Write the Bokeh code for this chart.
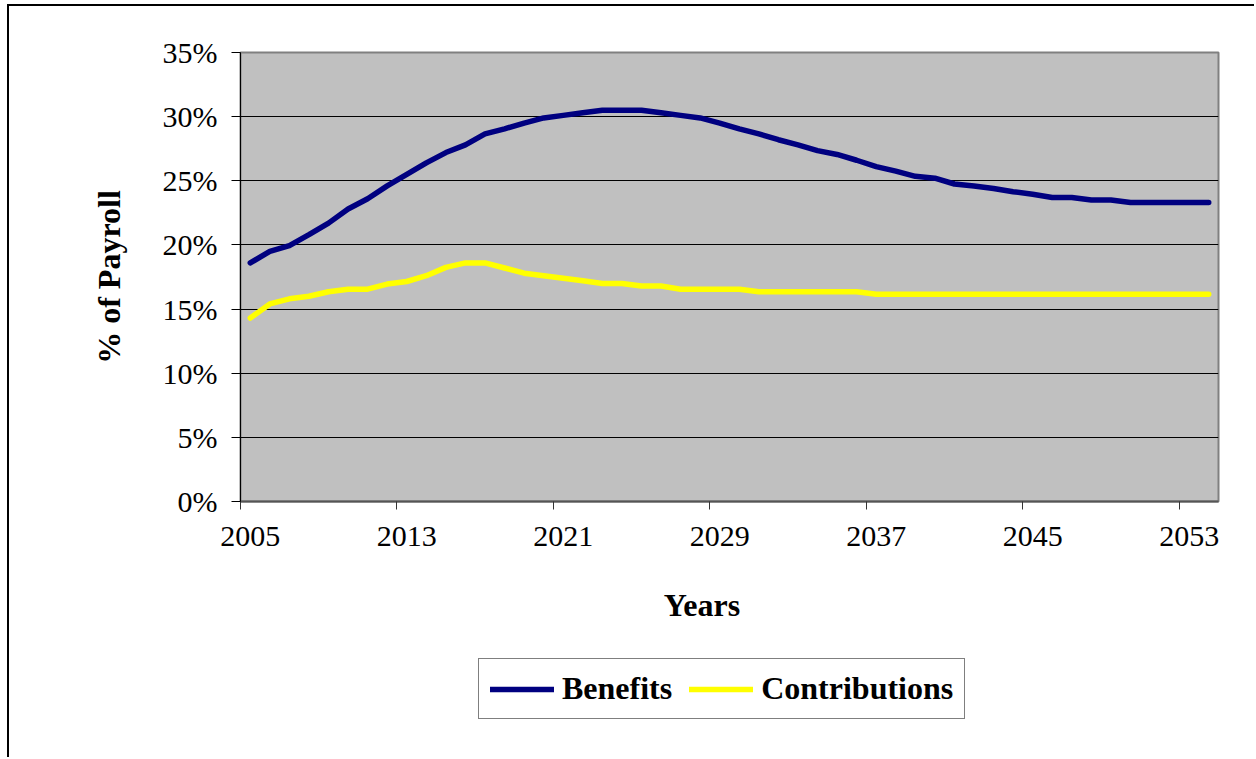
from bokeh.plotting import figure
from bokeh.models import Range1d, FixedTicker, Legend, LegendItem, Label
from bokeh.layouts import column
from bokeh.embed import file_html
from bokeh.resources import INLINE

years = list(range(2005, 2055))
benefits = [18.6, 19.5, 19.95, 20.8, 21.7, 22.8, 23.6, 24.6, 25.5, 26.4,
            27.2, 27.8, 28.65, 29.05, 29.5, 29.9, 30.1, 30.3, 30.5, 30.5,
            30.5, 30.3, 30.1, 29.9, 29.5, 29.05, 28.65, 28.2, 27.8, 27.35,
            27.05, 26.6, 26.1, 25.75, 25.35, 25.2, 24.75, 24.6, 24.4, 24.15,
            23.95, 23.7, 23.7, 23.5, 23.5, 23.3, 23.3, 23.3, 23.3, 23.3]
contributions = [14.3, 15.4, 15.8, 16.0, 16.35, 16.55, 16.55, 16.95, 17.15, 17.6,
                 18.25, 18.6, 18.6, 18.2, 17.8, 17.6, 17.4, 17.2, 17.0, 17.0,
                 16.8, 16.8, 16.55, 16.55, 16.55, 16.55, 16.35, 16.35, 16.35, 16.35,
                 16.35, 16.35, 16.15, 16.15, 16.15, 16.15, 16.15, 16.15, 16.15, 16.15,
                 16.15, 16.15, 16.15, 16.15, 16.15, 16.15, 16.15, 16.15, 16.15, 16.15]
x_tick_years = [2005, 2013, 2021, 2029, 2037, 2045, 2053]
x_tick_labels = ["2005", "2013", "2021", "2029", "2037", "2045", "2053"]
y_ticks = [0, 5, 10, 15, 20, 25, 30, 35]
y_tick_labels = ["0%", "5%", "10%", "15%", "20%", "25%", "30%", "35%"]
series_names = ["Benefits", "Contributions"]
x_title = "Years"
y_title = "% of Payroll"

FONT = "Liberation Serif"
BLUE = "#000080"
YELLOW = "#FFFF00"

# ---------------- main chart ----------------
p = figure(width=1247, height=556, output_backend="svg", toolbar_location=None,
           x_range=Range1d(2004.5, 2054.5), y_range=Range1d(0, 35),
           min_border_left=231, min_border_top=46, min_border_right=38,
           min_border_bottom=61)
p.margin = (4, 0, 0, 7)
p.styles = {"border-left": "2px solid #000000", "border-top": "2px solid #000000"}

p.background_fill_color = "#C0C0C0"
p.border_fill_color = "white"
p.outline_line_color = "#808080"
p.outline_line_width = 2

p.xaxis.ticker = FixedTicker(ticks=x_tick_years,
                             minor_ticks=[y - 0.5 for y in x_tick_years])
p.xaxis.major_label_overrides = {y: l for y, l in zip(x_tick_years, x_tick_labels)}
p.xaxis.major_tick_line_color = None
p.xaxis.major_tick_out = 8
p.xaxis.major_tick_in = 0
p.xaxis.minor_tick_line_color = "#333333"
p.xaxis.minor_tick_out = 8
p.xaxis.minor_tick_in = 0
p.xaxis.axis_line_color = "#555555"
p.xaxis.axis_line_width = 2
p.xaxis.major_label_text_font = FONT
p.xaxis.major_label_text_font_size = "30px"
p.xaxis.major_label_text_color = "black"
p.xaxis.major_label_standoff = 17

p.yaxis.ticker = FixedTicker(ticks=y_ticks)
p.yaxis.major_label_overrides = {t: l for t, l in zip(y_ticks, y_tick_labels)}
p.yaxis.minor_tick_line_color = None
p.yaxis.major_tick_out = 9
p.yaxis.major_tick_in = 0
p.yaxis.major_tick_line_color = "black"
p.yaxis.axis_line_color = "black"
p.yaxis.major_label_text_font = FONT
p.yaxis.major_label_text_font_size = "30px"
p.yaxis.major_label_text_color = "black"
p.yaxis.major_label_standoff = 14
p.yaxis.axis_label = y_title
p.yaxis.axis_label_text_font = FONT
p.yaxis.axis_label_text_font_style = "bold"
p.yaxis.axis_label_text_font_size = "32px"
p.yaxis.axis_label_text_color = "black"
p.yaxis.axis_label_standoff = 33

p.xgrid.grid_line_color = None
p.ygrid.ticker = FixedTicker(ticks=y_ticks[1:-1])
p.ygrid.grid_line_color = "black"
p.ygrid.grid_line_width = 1

p.line(years, benefits, line_color=BLUE, line_width=5.5,
       line_cap="round", line_join="round")
p.line(years, contributions, line_color=YELLOW, line_width=5.5,
       line_cap="round", line_join="round")

# ---------------- x title + legend strip ----------------
# frame of this strip is aligned with the chart frame; ranges are page pixels
q = figure(width=1247, height=197, output_backend="svg", toolbar_location=None,
           x_range=Range1d(240, 1218), y_range=Range1d(759, 562),
           x_axis_type=None, y_axis_type=None,
           min_border_left=0, min_border_right=0, min_border_top=0, min_border_bottom=0)
q.margin = (0, 0, 0, 7)
q.styles = {"border-left": "2px solid #000000"}
q.outline_line_color = None
q.background_fill_color = "white"
q.border_fill_color = "white"
q.grid.visible = False

q.add_layout(Label(x=701.5, y=606, text=x_title, text_font=FONT,
                   text_font_style="bold", text_font_size="32px", text_color="black",
                   text_align="center", text_baseline="middle"))

# legend swatches: same series, lying outside this strip's visible range
l1 = q.line(years, benefits, line_color=BLUE, line_width=5.5, line_cap="round")
l2 = q.line(years, contributions, line_color=YELLOW, line_width=5.5, line_cap="round")
legend = Legend(items=[LegendItem(label=series_names[0], renderers=[l1]),
                       LegendItem(label=series_names[1], renderers=[l2])],
                location=(238, 38), orientation="horizontal",
                border_line_color="black", border_line_width=1,
                background_fill_color="white", background_fill_alpha=1,
                label_text_font=FONT, label_text_font_style="bold",
                label_text_font_size="32px", label_text_color="black",
                glyph_width=64, glyph_height=30, label_standoff=8, spacing=17,
                padding=11, margin=0)
q.add_layout(legend)

layout = column(p, q, spacing=0)
open("out.html", "w").write(file_html(layout, INLINE))
